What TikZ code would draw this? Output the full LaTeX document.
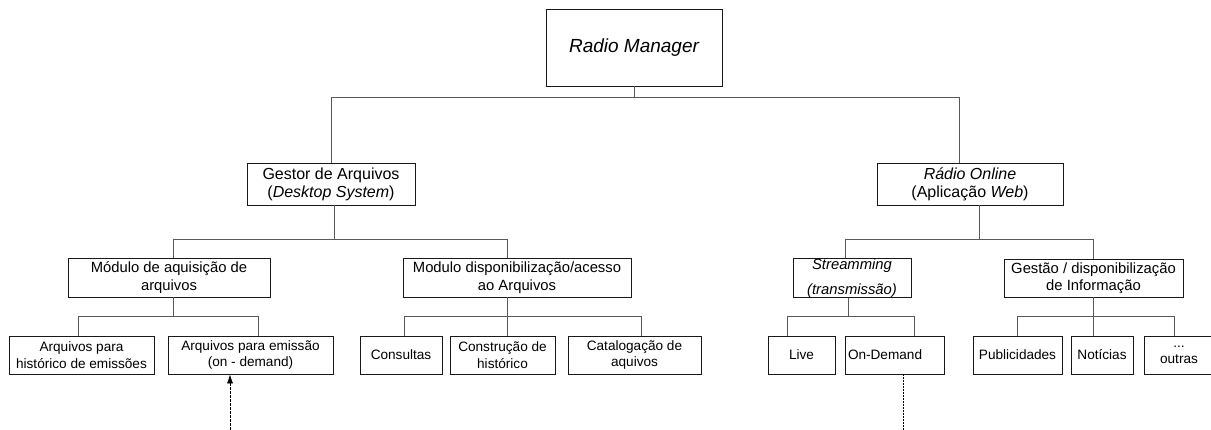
\documentclass[tikz,border=0pt]{standalone}
\usepackage{fontspec}
\setmainfont{Liberation Sans}
\usepackage{pgf,tikz}
\usepackage{xcolor}
\usetikzlibrary{arrows, arrows.meta}

\begin{document}
\begin{tikzpicture}[x=1pt,y=-1pt,
        box/.style={draw=black!90, line width=0.8pt, inner sep=0pt, align=center, minimum height=38},
        link/.style={draw=black!65, line width=0.9pt},
        feed/.style={draw=black, line width=0.6pt, dash pattern=on 2.5pt off 1.5pt, -{Latex[length=9pt,width=6pt]}},
        stream/.style={draw=black, line width=0.5pt, dash pattern=on 2pt off 1pt},
        ftop/.style={font=\fontsize{19}{22}\selectfont\itshape},
        fone/.style={font=\fontsize{16}{18}\selectfont},
        ftwo/.style={font=\fontsize{14.8}{17.5}\selectfont},
        fthree/.style={font=\fontsize{13.6}{16.5}\selectfont}]
        \useasboundingbox (0,0) rectangle (1211,430);

        \node[box, ftop, minimum width=176, minimum height=77] (rm) at (634,47.5) {Radio Manager};

        \node[box, fone, minimum width=168, minimum height=42] (ga) at (331,184) {Gestor de Arquivos\\(\textit{Desktop System})};
        \node[box, fone, minimum width=186, minimum height=42] (ro) at (970,184) {\textit{Rádio Online}\\(Aplicação \textit{Web})};

        \node[box, ftwo, minimum width=202, minimum height=39] (maq) at (169,277.5) {Módulo de aquisição de\\arquivos};
        \node[box, ftwo, minimum width=228, minimum height=39] (mda) at (517,277.5) {Modulo disponibilização/acesso\\ao Arquivos};
        \node[box, ftwo, minimum width=118] (st) at (852,278) {\textit{Streamming}\\[7pt]\textit{(transmissão)}};
        \node[box, ftwo, minimum width=179] (gi) at (1093.5,278) {Gestão / disponibilização\\de Informação};

        \node[box, fthree, minimum width=145] (ah) at (81.5,355) {Arquivos para\\histórico de emissões};
        \node[box, fthree, minimum width=165] (ae) at (250.5,355) {Arquivos para emissão\\(on - demand)};
        \node[box, fthree, minimum width=82] (co) at (401,355) {Consultas};
        \node[box, fthree, minimum width=105] (ch) at (502.5,355) {Construção de\\histórico};
        \node[box, fthree, minimum width=133] (ca) at (634.5,355) {Catalogação de\\aquivos};
        \node[box, fthree, minimum width=67] (li) at (801.5,355) {Live};
        \node[box, fthree, align=left, text width=93, inner xsep=3pt] (od) at (894.5,355) {On-Demand};
        \node[box, fthree, minimum width=89] (pu) at (1017.5,355) {Publicidades};
        \node[box, fthree, minimum width=62] (no) at (1102,355) {Notícias};
        \node[box, fthree, minimum width=70] (ou) at (1179,355) {...\\outras};

        \draw[link] (rm.south) -- ++(0,11) coordinate (r0);
        \draw[link] (ga.north) |- (r0) -| ([xshift=-11]ro.north);

        \draw[link] ([xshift=3]ga.south) -- ++(0,34) coordinate (g0);
        \draw[link] ([xshift=4]maq.north) |- (g0) -| ([xshift=-10]mda.north);
        \draw[link] ([xshift=9]ro.south) -- ++(0,34) coordinate (o0);
        \draw[link] ([xshift=-7]st.north) |- (o0) -| (gi.north);

        \draw[link] ([xshift=4]maq.south) -- ++(0,19) coordinate (m0);
        \draw[link] ([xshift=-3]ah.north) |- (m0) -| ([xshift=7.5]ae.north);
        \draw[link] ([xshift=-10]mda.south) -- ++(0,19) coordinate (d0);
        \draw[link] ([xshift=3]co.north) |- (d0) -| ([xshift=6.5]ca.north);
        \draw[link] (d0) -- (d0 |- ch.north);
        \draw[link] ([xshift=-4]st.south) -- ++(0,19) coordinate (s0);
        \draw[link] ([xshift=-14]li.north) |- (s0) -| ([xshift=19.5]od.north);
        \draw[link] (gi.south) -- ++(0,19) coordinate (i0);
        \draw[link] (pu.north) |- (i0) -| ([xshift=-5]ou.north);
        \draw[link] (i0) -- (i0 |- no.north);

        \coordinate (in) at (230,430);
        \draw[feed] (in) -- (in |- ae.south);
        \coordinate (out) at (903,430);
        \draw[stream] (od.south -| out) -- (out);
    \end{tikzpicture}
\end{document}
